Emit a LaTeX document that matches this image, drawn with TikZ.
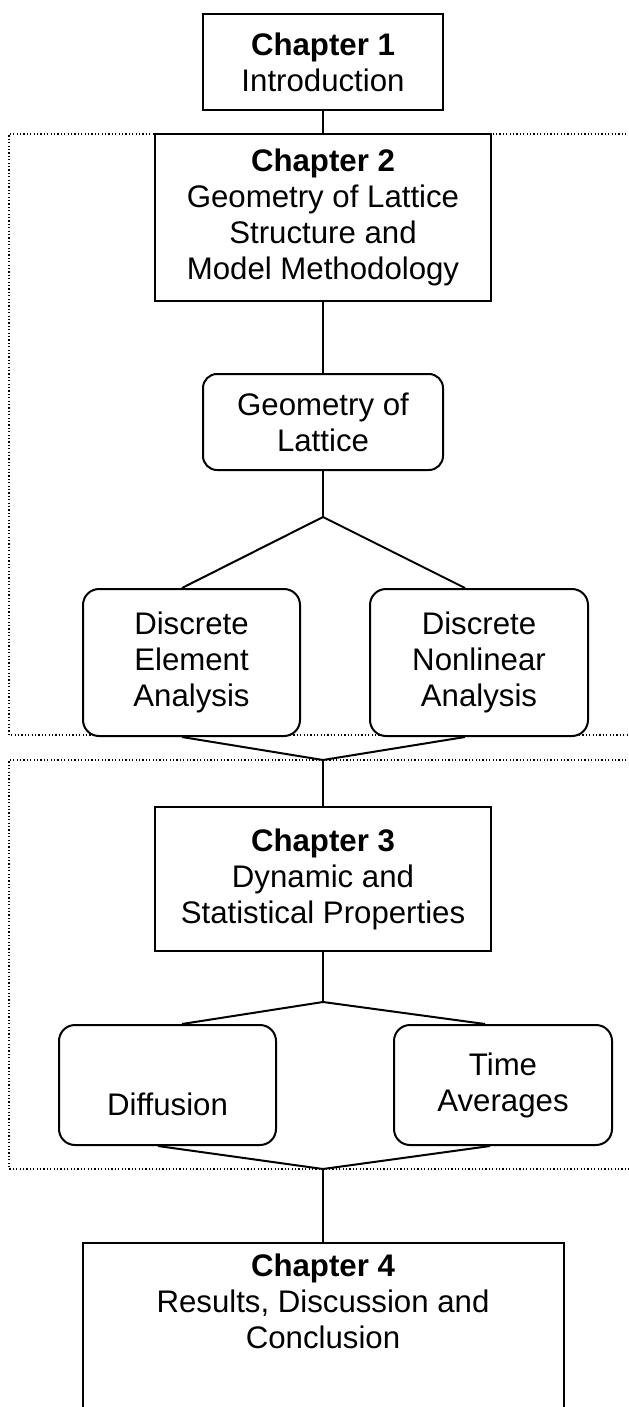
\documentclass[tikz,border=0pt]{standalone}
\usepackage{fontspec}
\setmainfont{Liberation Sans}
\begin{document}
\begin{tikzpicture}[x=0.5pt,y=-0.5pt,
  every node/.style={font=\fontsize{15.6pt}{18pt}\selectfont, align=center, inner sep=0pt, fill=white},
  chbox/.style={draw, line width=1pt},
  subbox/.style={draw, line width=1pt, rounded corners=7pt},
  link/.style={line width=1pt},
  group/.style={line width=0.6pt, dash pattern=on 0.6pt off 1.1pt}]
\useasboundingbox (0,0) rectangle (628,1407);

% dotted frames grouping chapters 2 and 3 (open on the right)
\draw[group] (640,134) -- (9,134) -- (9,735) -- (640,735);
\draw[group] (640,760) -- (9,760) -- (9,1169) -- (640,1169);

% chapter boxes and sub-topics
\node[chbox, minimum width=120pt, minimum height=48pt] (ch1) at (323,62)
  {\textbf{Chapter 1}\\Introduction};
\node[chbox, minimum width=168pt, minimum height=83.5pt] (ch2) at (323,217.5)
  {\textbf{Chapter 2}\\Geometry of Lattice\\Structure and\\Model Methodology};
\node[subbox, minimum width=120pt, minimum height=48pt] (gol) at (323,422)
  {Geometry of\\Lattice};
\node[subbox, rounded corners=8pt, minimum width=108.5pt, minimum height=73.5pt] (de) at (191.5,662.5)
  {Discrete\\Element\\Analysis};
\node[subbox, rounded corners=8pt, minimum width=109pt, minimum height=73.5pt] (dn) at (479,662.5)
  {Discrete\\Nonlinear\\Analysis};
\node[chbox, minimum width=168pt, minimum height=72pt] (ch3) at (323,879)
  {\textbf{Chapter 3}\\Dynamic and\\Statistical Properties};
\node[subbox, rounded corners=8pt, minimum width=108.5pt, minimum height=60pt] (diff) at (167.5,1085)
  {\strut\\Diffusion};
\node[subbox, rounded corners=8pt, minimum width=109pt, minimum height=60pt] (time) at (503,1085)
  {Time\\Averages};
\node[chbox, anchor=north, inner ysep=5.5pt, minimum width=240.5pt] (ch4) at (323,1242)
  {\textbf{Chapter 4}\\Results, Discussion and\\Conclusion\\\mbox{}\\\mbox{}\\\mbox{}};

% branch and merge points
\coordinate (b1) at (323,517);
\coordinate (m1) at (323,760);
\coordinate (b2) at (323,1002);
\coordinate (m2) at (323,1169);

% connectors
\draw[link] (ch1.south) -- (ch2.north);
\draw[link] (ch2.south) -- (gol.north);
\draw[link] (gol.south) -- (b1);
\draw[link] ([xshift=-4.75pt]de.north) -- (b1) -- ([xshift=-7pt]dn.north);
\draw[link] ([xshift=-4.75pt]de.south) -- (m1) -- ([xshift=-7pt]dn.south);
\draw[link] (m1) -- (ch3.north);
\draw[link] (ch3.south) -- (b2);
\draw[link] ([xshift=7.25pt]diff.north) -- (b2) -- ([xshift=-9pt]time.north);
\draw[link] ([xshift=-4.75pt]diff.south) -- (m2) -- ([xshift=-6.5pt]time.south);
\draw[link] (m2) -- (ch4.north);
\end{tikzpicture}
\end{document}
